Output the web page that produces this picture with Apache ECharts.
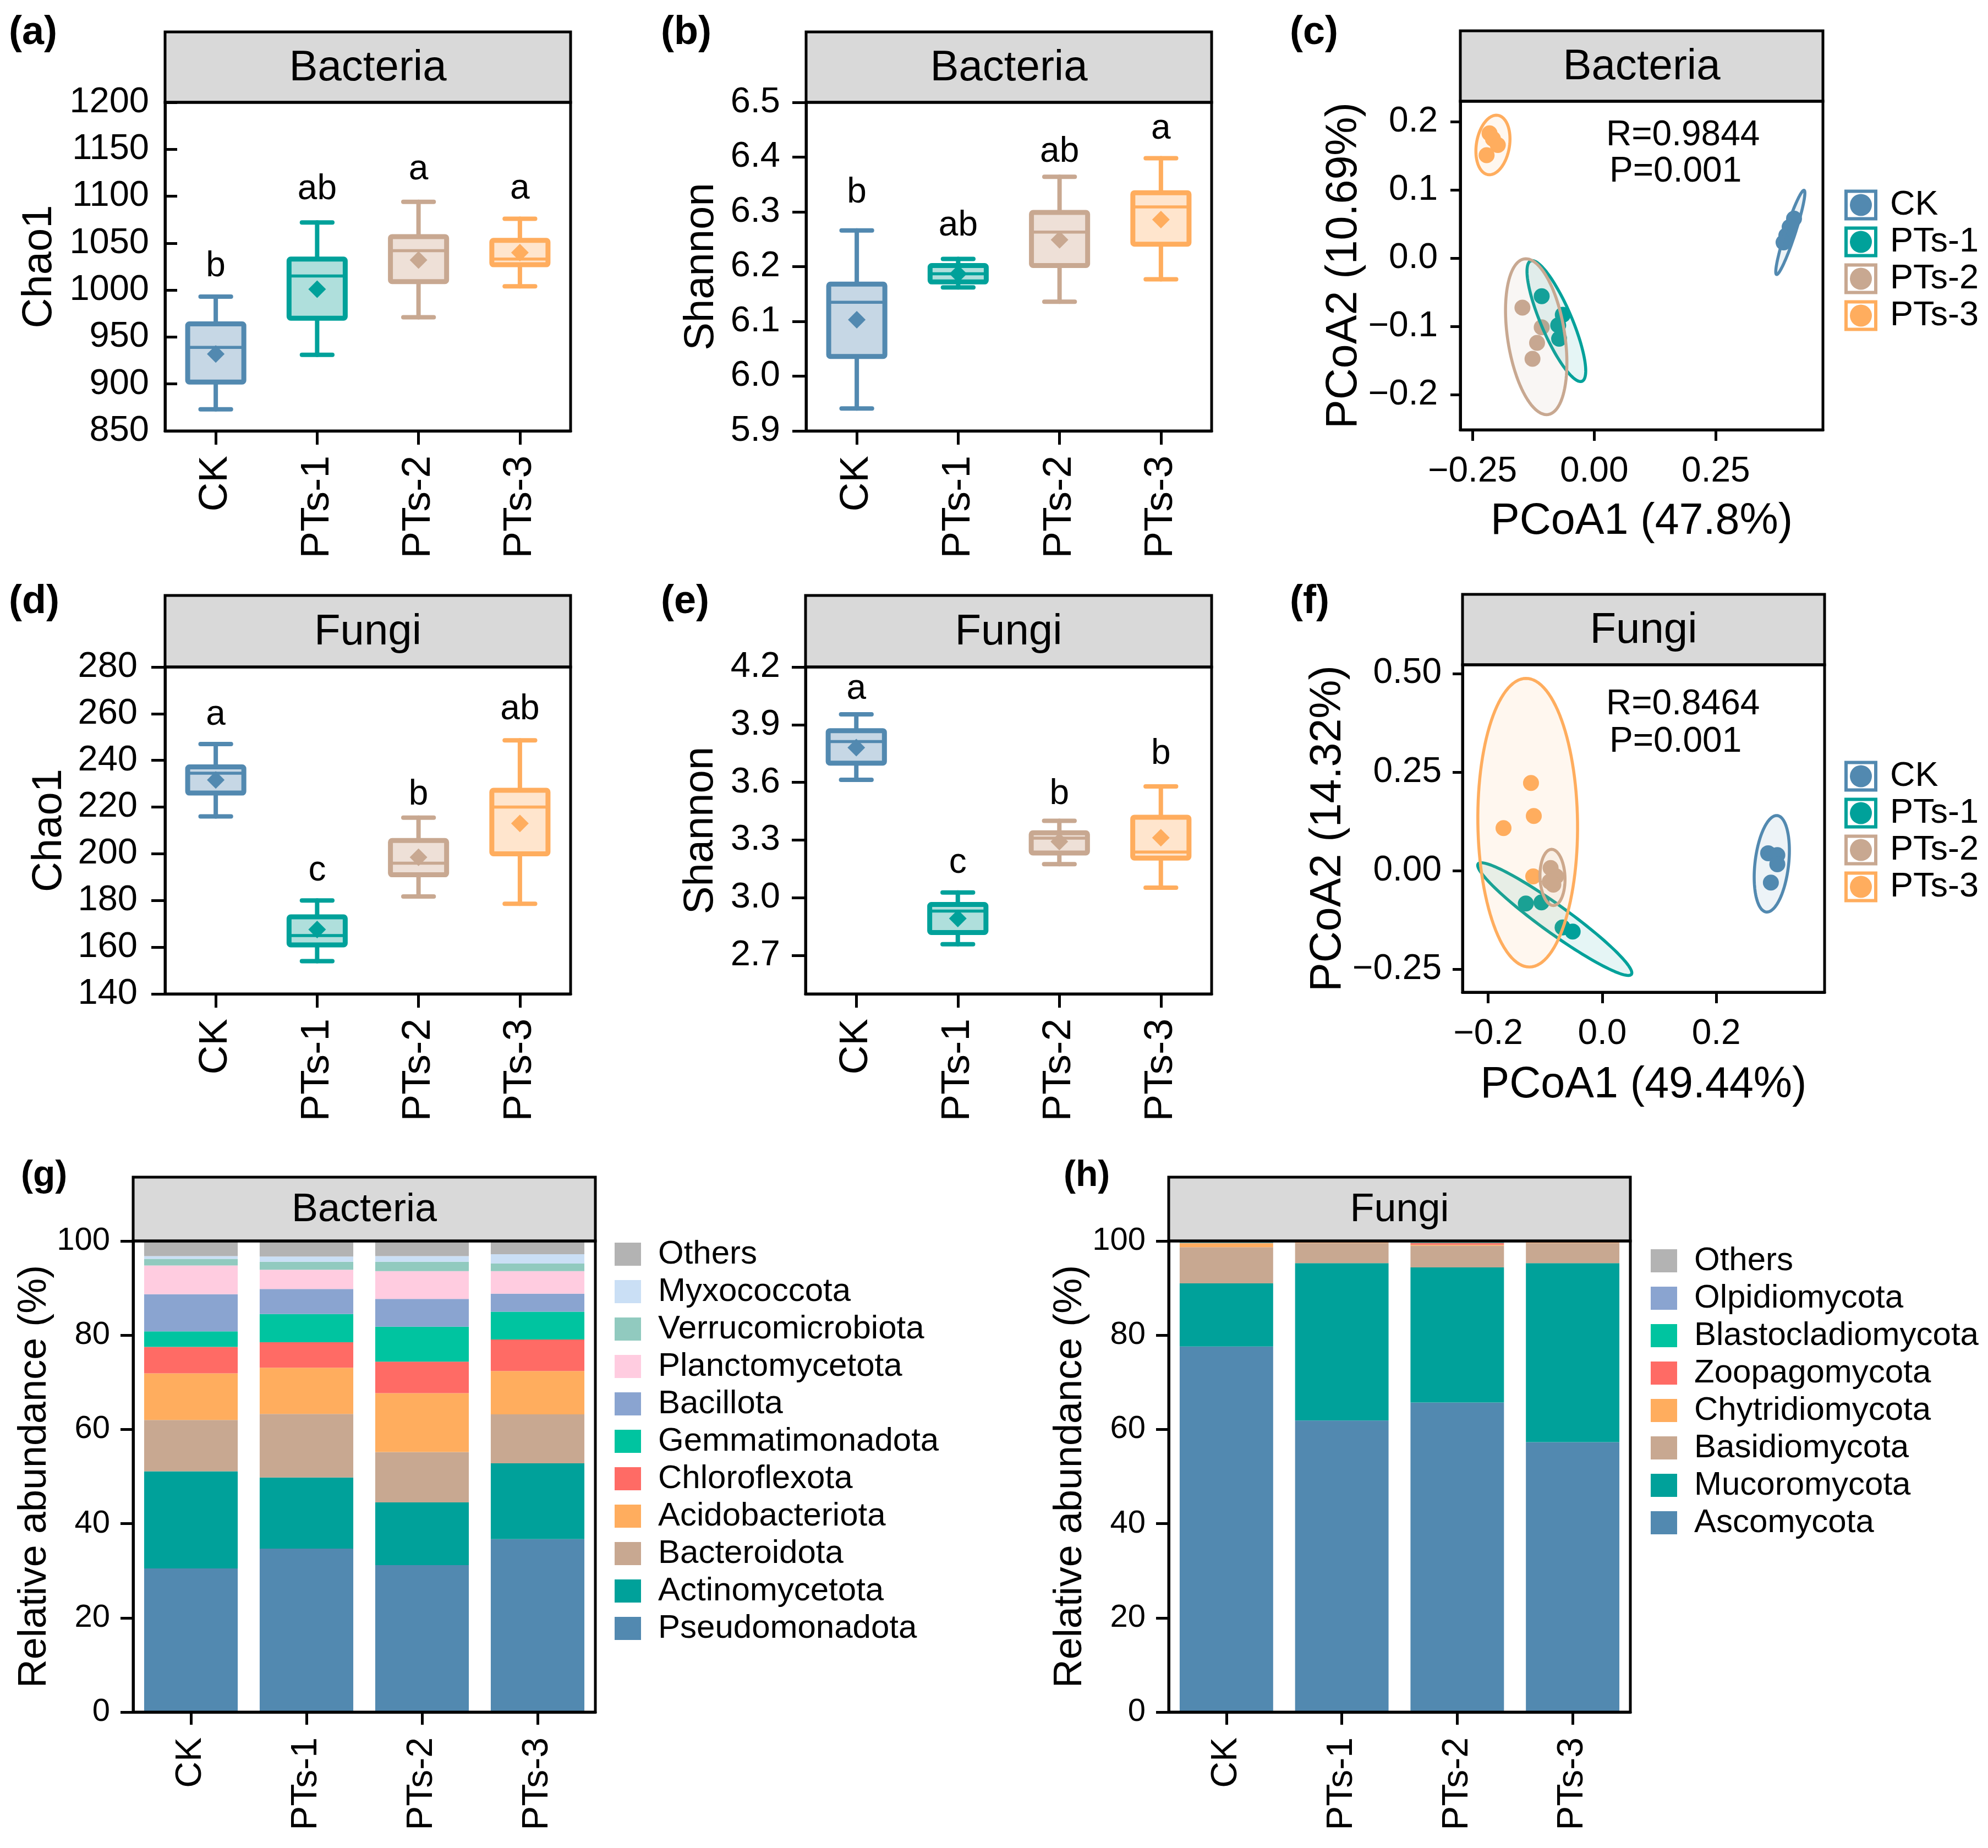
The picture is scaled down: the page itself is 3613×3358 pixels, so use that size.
<!DOCTYPE html>
<html>
<head>
<meta charset="utf-8">
<script src="https://cdn.jsdelivr.net/npm/echarts@6/dist/echarts.min.js"></script>
<style>html,body{margin:0;padding:0;background:#fff}#chart{width:3613px;height:3358px}</style>
</head>
<body>
<div id="chart"></div>
<script>
// ---------------- DATA ----------------
const GROUPS = ['CK', 'PTs-1', 'PTs-2', 'PTs-3'];

// (a) Bacteria Chao1 box statistics
const bacChao1Min  = [873, 931, 971, 1004];
const bacChao1Q1   = [902, 970, 1009, 1027];
const bacChao1Med  = [939, 1015, 1042, 1033];
const bacChao1Q3   = [964, 1033, 1057, 1053];
const bacChao1Max  = [993, 1072, 1094, 1076];
const bacChao1Mean = [932, 1001, 1032, 1040];
const bacChao1Sig  = ['b', 'ab', 'a', 'a'];
const bacChao1SigY = [1025, 1107, 1128, 1108];

// (b) Bacteria Shannon
const bacShanMin  = [5.941, 6.162, 6.136, 6.177];
const bacShanQ1   = [6.036, 6.172, 6.202, 6.241];
const bacShanMed  = [6.135, 6.187, 6.263, 6.309];
const bacShanQ3   = [6.168, 6.202, 6.299, 6.335];
const bacShanMax  = [6.266, 6.214, 6.364, 6.398];
const bacShanMean = [6.103, 6.187, 6.249, 6.286];
const bacShanSig  = ['b', 'ab', 'ab', 'a'];
const bacShanSigY = [6.335, 6.275, 6.409, 6.451];

// (d) Fungi Chao1
const funChao1Min  = [216, 154, 181.7, 178.6];
const funChao1Q1   = [226, 161, 191, 200];
const funChao1Med  = [234.5, 165, 196, 220];
const funChao1Q3   = [237.2, 173, 205.7, 227.2];
const funChao1Max  = [247, 180, 215.5, 248.6];
const funChao1Mean = [231.6, 167.6, 198.5, 213];
const funChao1Sig  = ['a', 'c', 'b', 'ab'];
const funChao1SigY = [259.4, 192.8, 225.3, 261.8];

// (e) Fungi Shannon
const funShanMin  = [3.613, 2.758, 3.175, 3.052];
const funShanQ1   = [3.700, 2.819, 3.233, 3.206];
const funShanMed  = [3.812, 2.931, 3.310, 3.238];
const funShanQ3   = [3.869, 2.965, 3.338, 3.419];
const funShanMax  = [3.954, 3.027, 3.400, 3.579];
const funShanMean = [3.781, 2.892, 3.292, 3.312];
const funShanSig  = ['a', 'c', 'b', 'b'];
const funShanSigY = [4.085, 3.181, 3.537, 3.748];

// (c) Bacteria PCoA (one inner list per group, in GROUPS order)
const bacPC1 = [[0.4106, 0.4016, 0.3948, 0.3891], [-0.1078, -0.0645, -0.0739, -0.0720], [-0.1474, -0.1078, -0.1173, -0.1267], [-0.215, -0.208, -0.198, -0.221]];
const bacPC2 = [[0.0581, 0.0458, 0.0337, 0.0233], [-0.0554, -0.0827, -0.0979, -0.1177], [-0.0721, -0.1010, -0.1237, -0.1471], [0.183, 0.175, 0.166, 0.151]];
const bacEllCenter = [[0.403, 0.038], [-0.0777, -0.0918], [-0.1191, -0.1147], [-0.208, 0.166]];
const bacEllMajor  = [[-0.0283, -0.0616], [0.0528, -0.0881], [0.0245, -0.1139], [0.0102, 0.0434]];
const bacEllMinor  = [[0.0097, -0.0022], [0.0292, 0.0088], [0.0581, 0.0063], [0.0335, -0.0039]];
const bacStats = ['R=0.9844', 'P=0.001'];

// (f) Fungi PCoA
const funPC1 = [[0.291, 0.3071, 0.3071, 0.2958], [-0.134, -0.1065, -0.0695, -0.0518], [-0.0905, -0.0808, -0.092, -0.0857], [-0.1249, -0.120, -0.1731, -0.121]];
const funPC2 = [[0.0444, 0.0398, 0.0165, -0.030], [-0.083, -0.0803, -0.1437, -0.1542], [0.0068, -0.0142, -0.0275, -0.0352], [0.2223, 0.1389, 0.1082, -0.0142]];
const funEllCenter = [[0.2974, 0.0176], [-0.0832, -0.1226], [-0.0872, -0.017], [-0.1307, 0.1218]];
const funEllMajor  = [[-0.0097, -0.1222], [0.1344, -0.140], [0.0015, -0.0712], [0.0032, -0.3658]];
const funEllMinor  = [[0.0293, -0.0049], [0.0141, 0.0284], [0.0219, 0.0], [0.0874, 0.0015]];
const funStats = ['R=0.8464', 'P=0.001'];

// (g) Bacteria relative abundance (%), stacked bottom -> top
const bacPhyla = ['Pseudomonadota', 'Actinomycetota', 'Bacteroidota', 'Acidobacteriota', 'Chloroflexota',
  'Gemmatimonadota', 'Bacillota', 'Planctomycetota', 'Verrucomicrobiota', 'Myxococcota', 'Others'];
const bacPseudomonadota    = [30.5, 34.7, 31.2, 36.7];
const bacActinomycetota    = [20.6, 15.1, 13.3, 16.1];
const bacBacteroidota      = [10.9, 13.5, 10.7, 10.4];
const bacAcidobacteriota   = [9.9, 9.8, 12.5, 9.2];
const bacChloroflexota     = [5.6, 5.4, 6.7, 6.7];
const bacGemmatimonadota   = [3.3, 6.0, 7.4, 5.9];
const bacBacillota         = [7.9, 5.3, 5.9, 3.8];
const bacPlanctomycetota   = [6.1, 4.1, 5.9, 4.8];
const bacVerrucomicrobiota = [1.4, 1.7, 2.0, 1.6];
const bacMyxococcota       = [0.6, 1.1, 1.2, 2.0];
const bacOthers            = [3.2, 3.3, 3.2, 2.8];
const bacAbundance = [bacPseudomonadota, bacActinomycetota, bacBacteroidota, bacAcidobacteriota, bacChloroflexota,
  bacGemmatimonadota, bacBacillota, bacPlanctomycetota, bacVerrucomicrobiota, bacMyxococcota, bacOthers];

// (h) Fungi relative abundance (%), stacked bottom -> top
const funPhyla = ['Ascomycota', 'Mucoromycota', 'Basidiomycota', 'Chytridiomycota', 'Zoopagomycota',
  'Blastocladiomycota', 'Olpidiomycota', 'Others'];
const funAscomycota         = [77.6, 61.9, 65.7, 57.3];
const funMucoromycota       = [13.4, 33.4, 28.7, 38.0];
const funBasidiomycota      = [7.7, 4.3, 4.6, 4.3];
const funChytridiomycota    = [0.8, 0.1, 0.2, 0.1];
const funZoopagomycota      = [0.1, 0.1, 0.4, 0.1];
const funBlastocladiomycota = [0.1, 0.05, 0.1, 0.05];
const funOlpidiomycota      = [0.1, 0.05, 0.1, 0.05];
const funOthers             = [0.2, 0.1, 0.2, 0.1];
const funAbundance = [funAscomycota, funMucoromycota, funBasidiomycota, funChytridiomycota, funZoopagomycota,
  funBlastocladiomycota, funOlpidiomycota, funOthers];

// ---------------- STYLE ----------------
const FONT = "'Liberation Sans', Arial, Helvetica, sans-serif";
const GROUP_COLORS = ['#5289B0', '#00A19A', '#C8A891', '#FFAD5E'];
const GROUP_FILLS  = ['#C6D7E5', '#AFDFDC', '#EEE0D7', '#FFE5CD'];
const ELL_FILLS = ['rgba(82,137,176,0.10)', 'rgba(0,161,154,0.10)', 'rgba(200,168,145,0.10)', 'rgba(255,173,94,0.10)'];
const BAC_COLORS = ['#5289B0', '#00A19A', '#C8A891', '#FFAD5E', '#FF6B65', '#00C4A0', '#8AA4D0', '#FFCCE0', '#91CABF', '#CADFF5', '#B3B3B3'];
const FUN_COLORS = ['#5289B0', '#00A19A', '#C8A891', '#FFAD5E', '#FF6B65', '#00C4A0', '#8AA4D0', '#B3B3B3'];

const LAYOUT = {
  a: {left: 300, top: 186, width: 737, height: 597, stripTop: 58},
  b: {left: 1465, top: 186, width: 737, height: 597, stripTop: 58},
  c: {left: 2654, top: 184, width: 659, height: 597, stripTop: 56},
  d: {left: 300, top: 1212, width: 737, height: 594, stripTop: 1082},
  e: {left: 1464, top: 1212, width: 738, height: 594, stripTop: 1082},
  f: {left: 2658, top: 1208, width: 658, height: 595, stripTop: 1080},
  g: {left: 242, top: 2255, width: 840, height: 856, stripTop: 2139},
  h: {left: 2124, top: 2255, width: 839, height: 856, stripTop: 2139}
};

const fmtSigned = (v, d) => (v < -1e-9 ? '\u2212' : '') + Math.abs(v).toFixed(d);

const grids = [], xAxes = [], yAxes = [], series = [], graphics = [], legends = [];

function addGrid(key) {
  const L = LAYOUT[key];
  grids.push({left: L.left, top: L.top, width: L.width, height: L.height, show: false,
    containLabel: false, outerBoundsMode: 'none'});
  return grids.length - 1;
}

function frameAndStrip(key, title, titleSize) {
  const L = LAYOUT[key];
  graphics.push({type: 'rect', z: 100, shape: {x: L.left, y: L.stripTop, width: L.width, height: L.top - L.stripTop},
    style: {fill: '#D9D9D9', stroke: '#000', lineWidth: 5}});
  graphics.push({type: 'rect', z: 100, shape: {x: L.left, y: L.top, width: L.width, height: L.height},
    style: {fill: 'none', stroke: '#000', lineWidth: 5}});
  graphics.push({type: 'text', z: 101, x: L.left + L.width / 2, y: (L.stripTop + L.top) / 2 + 2,
    style: {text: title, fontSize: titleSize, fontFamily: FONT, fill: '#000',
      align: 'center', verticalAlign: 'middle', textAlign: 'center', textVerticalAlign: 'middle'}});
}

function panelLabel(text, x, y, size) {
  graphics.push({type: 'text', z: 101, x: x, y: y,
    style: {text: text, fontSize: size, fontWeight: 'bold', fontFamily: FONT, fill: '#000',
      align: 'left', verticalAlign: 'middle', textAlign: 'left', textVerticalAlign: 'middle'}});
}

function freeText(text, x, y, size) {
  graphics.push({type: 'text', z: 101, x: x, y: y,
    style: {text: text, fontSize: size, fontFamily: FONT, fill: '#000',
      align: 'left', verticalAlign: 'middle', textAlign: 'left', textVerticalAlign: 'middle'}});
}

function valueAxis(gi, o) {
  return {
    gridIndex: gi, type: 'value', min: o.min, max: o.max,
    name: o.name, nameLocation: 'middle', nameGap: o.nameGap,
    nameTextStyle: {fontSize: o.nameSize, fontFamily: FONT, color: '#000'},
    axisLine: {show: true, onZero: false, lineStyle: {color: '#000', width: 5}},
    axisTick: {show: true, inside: !!o.inside, length: o.tickLen, customValues: o.ticks,
      lineStyle: {color: '#000', width: 5}},
    axisLabel: {customValues: o.ticks, formatter: o.fmt, fontSize: o.labelSize, fontFamily: FONT,
      color: '#000', margin: o.margin},
    splitLine: {show: false}
  };
}

function categoryAxis(gi, o) {
  return {
    gridIndex: gi, type: 'category', data: GROUPS, boundaryGap: true,
    axisLine: {show: true, onZero: false, lineStyle: {color: '#000', width: 5}},
    axisTick: {show: true, alignWithLabel: true, interval: 0, length: o.tickLen, lineStyle: {color: '#000', width: 5}},
    axisLabel: {rotate: 90, interval: 0, fontSize: o.labelSize, fontFamily: FONT, color: '#000', margin: o.margin},
    splitLine: {show: false}
  };
}

// ---- box plot panel ----
function boxPanel(key, stats, yOpt, title) {
  const gi = addGrid(key);
  xAxes.push(categoryAxis(gi, {tickLen: 25, labelSize: 73, margin: 45}));
  yAxes.push(valueAxis(gi, yOpt));
  const xi = xAxes.length - 1, yi = yAxes.length - 1;
  const data = GROUPS.map((g, i) => [i, stats.min[i], stats.q1[i], stats.med[i], stats.q3[i], stats.max[i], stats.mean[i], stats.sigY[i]]);
  series.push({
    type: 'custom', xAxisIndex: xi, yAxisIndex: yi, data: data, z: 3, silent: true,
    encode: {x: 0, y: [1, 2, 3, 4, 5, 6, 7]},
    renderItem: function (params, api) {
      const i = api.value(0);
      const col = GROUP_COLORS[i], fill = GROUP_FILLS[i];
      const band = api.size([1, 0])[0];
      const pMin = api.coord([i, api.value(1)]);
      const pQ1 = api.coord([i, api.value(2)]);
      const pMed = api.coord([i, api.value(3)]);
      const pQ3 = api.coord([i, api.value(4)]);
      const pMax = api.coord([i, api.value(5)]);
      const pMean = api.coord([i, api.value(6)]);
      const pSig = api.coord([i, api.value(7)]);
      const x = pMin[0];
      const hw = band * 0.277, cw = band * 0.15, dm = 16;
      const ls = {stroke: col, lineWidth: 8, lineCap: 'round'};
      return {type: 'group', children: [
        {type: 'line', shape: {x1: x, y1: pQ3[1], x2: x, y2: pMax[1]}, style: ls},
        {type: 'line', shape: {x1: x, y1: pQ1[1], x2: x, y2: pMin[1]}, style: ls},
        {type: 'line', shape: {x1: x - cw, y1: pMax[1], x2: x + cw, y2: pMax[1]}, style: ls},
        {type: 'line', shape: {x1: x - cw, y1: pMin[1], x2: x + cw, y2: pMin[1]}, style: ls},
        {type: 'rect', shape: {x: x - hw, y: pQ3[1], width: 2 * hw, height: pQ1[1] - pQ3[1], r: 3},
          style: {fill: fill, stroke: col, lineWidth: 9, lineJoin: 'round'}},
        {type: 'line', shape: {x1: x - hw, y1: pMed[1], x2: x + hw, y2: pMed[1]}, style: {stroke: col, lineWidth: 5.5}},
        {type: 'polygon', shape: {points: [[x, pMean[1] - dm], [x + dm, pMean[1]], [x, pMean[1] + dm], [x - dm, pMean[1]]]},
          style: {fill: col}},
        {type: 'text', x: x, y: pSig[1], style: {text: stats.sig[params.dataIndex], fontSize: 64, fontFamily: FONT,
          fill: '#000', align: 'center', verticalAlign: 'middle', textAlign: 'center', textVerticalAlign: 'middle'}}
      ]};
    }
  });
  frameAndStrip(key, title, 78);
}

// ---- PCoA panel ----
const LEGEND_ICON = 'path://M0,0H60V56H0Z M6,6V50H54V6Z M30,8A20,20,0,1,1,29.99,8Z';
function pcoaPanel(key, pc1, pc2, ellC, ellM, ellN, xOpt, yOpt, title) {
  const gi = addGrid(key);
  xAxes.push(valueAxis(gi, xOpt));
  yAxes.push(valueAxis(gi, yOpt));
  const xi = xAxes.length - 1, yi = yAxes.length - 1;
  GROUPS.forEach((g, k) => {
    series.push({
      type: 'scatter', name: g, xAxisIndex: xi, yAxisIndex: yi, z: 2, silent: true,
      symbol: 'circle', symbolSize: 29, itemStyle: {color: GROUP_COLORS[k], opacity: 1},
      data: pc1[k].map((v, j) => [v, pc2[k][j]])
    });
  });
  series.push({
    type: 'custom', name: title + ' ellipses', xAxisIndex: xi, yAxisIndex: yi, z: 3, silent: true,
    data: GROUPS.map((g, k) => [ellC[k][0], ellC[k][1], ellM[k][0], ellM[k][1], ellN[k][0], ellN[k][1], k]),
    renderItem: function (params, api) {
      const cx = api.value(0), cy = api.value(1), mx = api.value(2), my = api.value(3);
      const nx = api.value(4), ny = api.value(5), k = api.value(6);
      const pts = [];
      for (let s = 0; s < 120; s++) {
        const t = s / 120 * 2 * Math.PI;
        pts.push(api.coord([cx + Math.cos(t) * mx + Math.sin(t) * nx, cy + Math.cos(t) * my + Math.sin(t) * ny]));
      }
      return {type: 'polygon', shape: {points: pts},
        style: {fill: ELL_FILLS[k], stroke: GROUP_COLORS[k], lineWidth: 5.5, lineJoin: 'round'}};
    }
  });
  frameAndStrip(key, title, 78);
}

// ---- stacked bar panel ----
function barPanel(key, names, values, colors, stackId, title, legendPos) {
  const gi = addGrid(key);
  xAxes.push(categoryAxis(gi, {tickLen: 23, labelSize: 66, margin: 46}));
  yAxes.push(valueAxis(gi, {min: 0, max: 100, ticks: [0, 20, 40, 60, 80, 100], fmt: v => String(v),
    tickLen: 23, labelSize: 58, margin: 42, name: 'Relative abundance (%)', nameGap: 113, nameSize: 72}));
  const xi = xAxes.length - 1, yi = yAxes.length - 1;
  names.forEach((n, k) => {
    series.push({type: 'bar', name: n, xAxisIndex: xi, yAxisIndex: yi, stack: stackId, data: values[k],
      barCategoryGap: '19%', itemStyle: {color: colors[k]}, silent: true, z: 2});
  });
  legends.push({
    orient: 'vertical', left: legendPos[0], top: legendPos[1], padding: 0,
    itemWidth: 48, itemHeight: 42, itemGap: 8, selectedMode: false, icon: 'rect',
    data: names.slice().reverse(),
    textStyle: {fontSize: 60, fontFamily: FONT, color: '#000', lineHeight: 60, padding: [0, 0, 0, 26]}
  });
  frameAndStrip(key, title, 72);
}

// ---------------- BUILD ----------------
boxPanel('a', {min: bacChao1Min, q1: bacChao1Q1, med: bacChao1Med, q3: bacChao1Q3, max: bacChao1Max, mean: bacChao1Mean, sig: bacChao1Sig, sigY: bacChao1SigY},
  {min: 850, max: 1200, ticks: [850, 900, 950, 1000, 1050, 1100, 1150, 1200], fmt: v => String(v), inside: true,
   tickLen: 22, labelSize: 65, margin: 29, name: 'Chao1', nameGap: 190, nameSize: 76}, 'Bacteria');

boxPanel('b', {min: bacShanMin, q1: bacShanQ1, med: bacShanMed, q3: bacShanQ3, max: bacShanMax, mean: bacShanMean, sig: bacShanSig, sigY: bacShanSigY},
  {min: 5.9, max: 6.5, ticks: [5.9, 6.0, 6.1, 6.2, 6.3, 6.4, 6.5], fmt: v => v.toFixed(1),
   tickLen: 25, labelSize: 65, margin: 47, name: 'Shannon', nameGap: 152, nameSize: 76}, 'Bacteria');

pcoaPanel('c', bacPC1, bacPC2, bacEllCenter, bacEllMajor, bacEllMinor,
  {min: -0.275, max: 0.47, ticks: [-0.25, 0, 0.25], fmt: v => fmtSigned(v, 2), tickLen: 20, labelSize: 64, margin: 44,
   name: 'PCoA1 (47.8%)', nameGap: 128, nameSize: 79},
  {min: -0.251, max: 0.230, ticks: [-0.2, -0.1, 0, 0.1, 0.2], fmt: v => fmtSigned(v, 1), tickLen: 18, labelSize: 64, margin: 41,
   name: 'PCoA2 (10.69%)', nameGap: 160, nameSize: 79}, 'Bacteria');

boxPanel('d', {min: funChao1Min, q1: funChao1Q1, med: funChao1Med, q3: funChao1Q3, max: funChao1Max, mean: funChao1Mean, sig: funChao1Sig, sigY: funChao1SigY},
  {min: 140, max: 280, ticks: [140, 160, 180, 200, 220, 240, 260, 280], fmt: v => String(v),
   tickLen: 25, labelSize: 65, margin: 50, name: 'Chao1', nameGap: 172, nameSize: 76}, 'Fungi');

boxPanel('e', {min: funShanMin, q1: funShanQ1, med: funShanMed, q3: funShanQ3, max: funShanMax, mean: funShanMean, sig: funShanSig, sigY: funShanSigY},
  {min: 2.5, max: 4.2, ticks: [2.7, 3.0, 3.3, 3.6, 3.9, 4.2], fmt: v => v.toFixed(1),
   tickLen: 25, labelSize: 65, margin: 46, name: 'Shannon', nameGap: 152, nameSize: 76}, 'Fungi');

pcoaPanel('f', funPC1, funPC2, funEllCenter, funEllMajor, funEllMinor,
  {min: -0.245, max: 0.39, ticks: [-0.2, 0, 0.2], fmt: v => fmtSigned(v, 1), tickLen: 20, labelSize: 64, margin: 44,
   name: 'PCoA1 (49.44%)', nameGap: 130, nameSize: 79},
  {min: -0.308, max: 0.522, ticks: [-0.25, 0, 0.25, 0.5], fmt: v => fmtSigned(v, 2), tickLen: 18, labelSize: 64, margin: 38,
   name: 'PCoA2 (14.32%)', nameGap: 178, nameSize: 79}, 'Fungi');

barPanel('g', bacPhyla, bacAbundance, BAC_COLORS, 'bac', 'Bacteria', [1117, 2249]);
barPanel('h', funPhyla, funAbundance, FUN_COLORS, 'fun', 'Fungi', [3000, 2261]);

// PCoA legends
[[341], [1379]].forEach(p => {
  legends.push({
    orient: 'vertical', left: 3352, top: p[0], padding: 0, itemWidth: 60, itemHeight: 56, itemGap: 4,
    selectedMode: false,
    data: GROUPS.map(n => ({name: n, icon: LEGEND_ICON})),
    textStyle: {fontSize: 63, fontFamily: FONT, color: '#000', lineHeight: 56, padding: [0, 0, 0, 18]}
  });
});

// panel letters
panelLabel('(a)', 16, 60, 72);
panelLabel('(b)', 1201, 60, 72);
panelLabel('(c)', 2344, 60, 72);
panelLabel('(d)', 16, 1094, 72);
panelLabel('(e)', 1201, 1094, 72);
panelLabel('(f)', 2344, 1094, 72);
panelLabel('(g)', 38, 2137, 66);
panelLabel('(h)', 1933, 2137, 66);

// ANOSIM statistics
freeText(bacStats[0], 2919, 246, 64);
freeText(bacStats[1], 2925, 312, 64);
freeText(funStats[0], 2919, 1280, 64);
freeText(funStats[1], 2925, 1348, 64);

const chart = echarts.init(document.getElementById('chart'), null, {renderer: 'canvas'});
chart.setOption({
  backgroundColor: '#fff',
  animation: false,
  textStyle: {fontFamily: FONT},
  grid: grids,
  xAxis: xAxes,
  yAxis: yAxes,
  legend: legends,
  series: series,
  graphic: {elements: graphics}
});
</script>
</body>
</html>
